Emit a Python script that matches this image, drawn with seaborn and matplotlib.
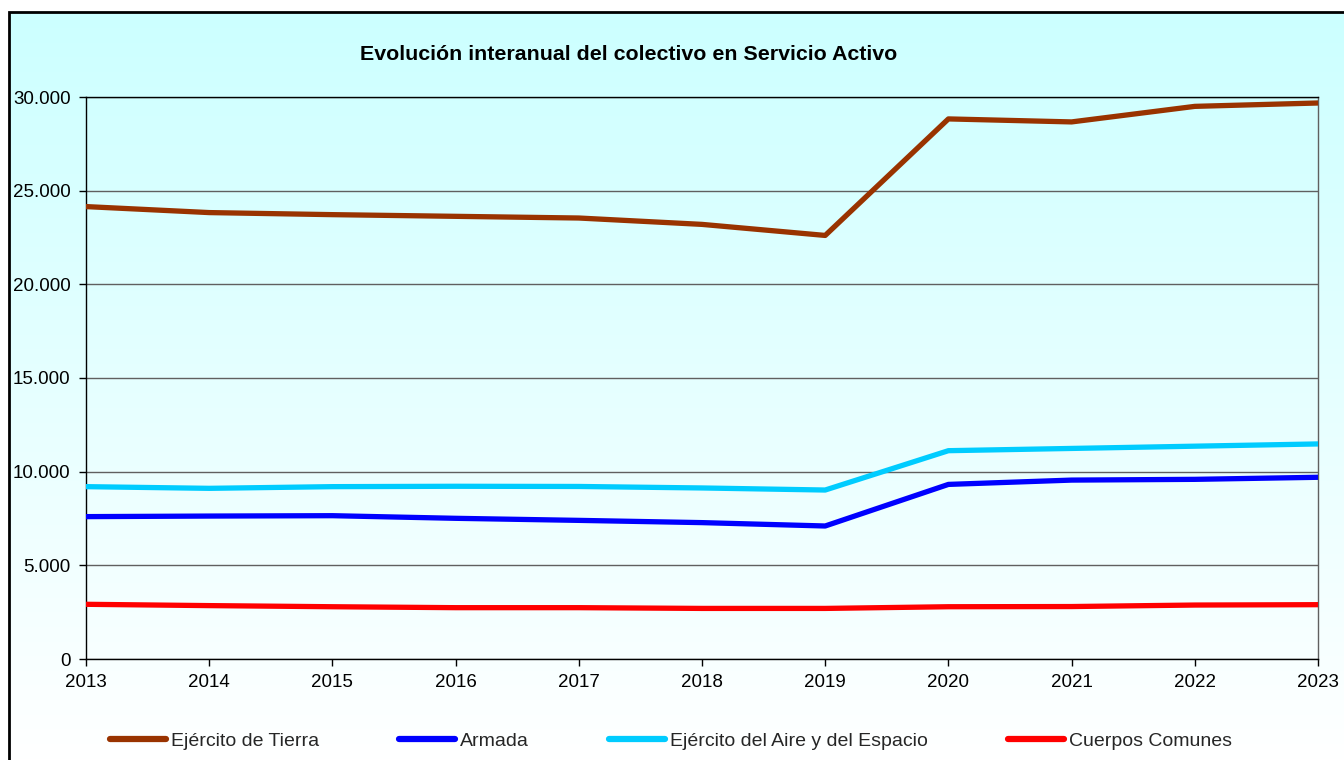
import numpy as np
import pandas as pd
import matplotlib
matplotlib.use("Agg")
import matplotlib.pyplot as plt
import matplotlib.ticker as mticker
from matplotlib.patches import Rectangle
from matplotlib.lines import Line2D
import seaborn as sns

years = [2013, 2014, 2015, 2016, 2017, 2018, 2019, 2020, 2021, 2022, 2023]
tierra = [24150, 23830, 23720, 23630, 23540, 23200, 22610, 28830, 28670, 29500, 29680]
armada = [7600, 7630, 7650, 7510, 7400, 7280, 7100, 9320, 9550, 9590, 9700]
aire = [9200, 9110, 9200, 9220, 9210, 9130, 9020, 11120, 11240, 11360, 11480]
comunes = [2920, 2850, 2790, 2740, 2740, 2700, 2700, 2790, 2800, 2880, 2900]

series_names = ["Ejército de Tierra", "Armada", "Ejército del Aire y del Espacio", "Cuerpos Comunes"]
series_colors = ["#993300", "#0000FF", "#00CCFF", "#FF0000"]
title = "Evolución interanual del colectivo en Servicio Activo"

df = pd.DataFrame({
    "year": years * 4,
    "value": tierra + armada + aire + comunes,
    "serie": [n for n in series_names for _ in years],
})

sns.set_theme(style="white")
plt.rcParams["font.family"] = ["Liberation Sans", "DejaVu Sans"]

W, H = 1344, 760
fig = plt.figure(figsize=(W / 100, H / 100), dpi=100)
fig.patch.set_facecolor("white")

# gradient background inside the chart border
bg = fig.add_axes([9 / W, 0, 1 - 9 / W, (H - 12) / H], zorder=-2)
grad = np.linspace(0, 1, 256).reshape(-1, 1)
top = np.array([0xCC, 0xFF, 0xFF]) / 255.0
img = top[None, None, :] * (1 - grad[:, :, None]) + np.ones(3)[None, None, :] * grad[:, :, None]
bg.imshow(img, aspect="auto", extent=[0, 1, 0, 1])
bg.set_axis_off()

fig.patches.append(Rectangle((9 / W, -0.05), 1.2, (H - 12) / H + 0.05,
                             transform=fig.transFigure, fill=False,
                             edgecolor="black", linewidth=2, zorder=5))

ax = fig.add_axes([86 / W, (H - 659) / H, (1318 - 86) / W, (659 - 97) / H])
ax.set_facecolor("none")

sns.lineplot(data=df, x="year", y="value", hue="serie", hue_order=series_names,
             palette=series_colors, linewidth=3.8, ax=ax, legend=False, zorder=3)

ax.set_xlim(2013, 2023)
ax.set_ylim(0, 30000)
ax.set_xticks(years)
ax.set_yticks(range(0, 30001, 5000))
ax.yaxis.set_major_formatter(mticker.FuncFormatter(lambda v, p: f"{int(v):,}".replace(",", ".")))
ax.grid(axis="y", color="#606060", linewidth=1)
ax.grid(axis="x", visible=False)
ax.set_axisbelow(True)
ax.tick_params(axis="both", which="major", length=5, width=1, color="black",
               labelsize=13.5, labelcolor="black", direction="out")
ax.tick_params(axis="y", pad=6)
ax.tick_params(axis="x", pad=6)
ax.tick_params(left=True, bottom=True)
for side in ["left", "bottom", "top"]:
    ax.spines[side].set_color("black")
    ax.spines[side].set_linewidth(1)
ax.spines["right"].set_color("#606060")
ax.spines["right"].set_linewidth(1)
ax.set_xlabel("")
ax.set_ylabel("")

fig.text(629 / W, (H - 54) / H, title, ha="center", va="center",
         fontsize=15.4, fontweight="bold", color="black")

handles = [Line2D([0], [0], color=c, linewidth=4.5, solid_capstyle="round") for c in series_colors]
fig.legend(handles, series_names, loc="center", bbox_to_anchor=(671 / W, 19 / H),
           ncol=4, frameon=False, fontsize=14, handlelength=2.9, handletextpad=0.25,
           columnspacing=4.1, borderaxespad=0)

fig.savefig("out.png", dpi=100)
